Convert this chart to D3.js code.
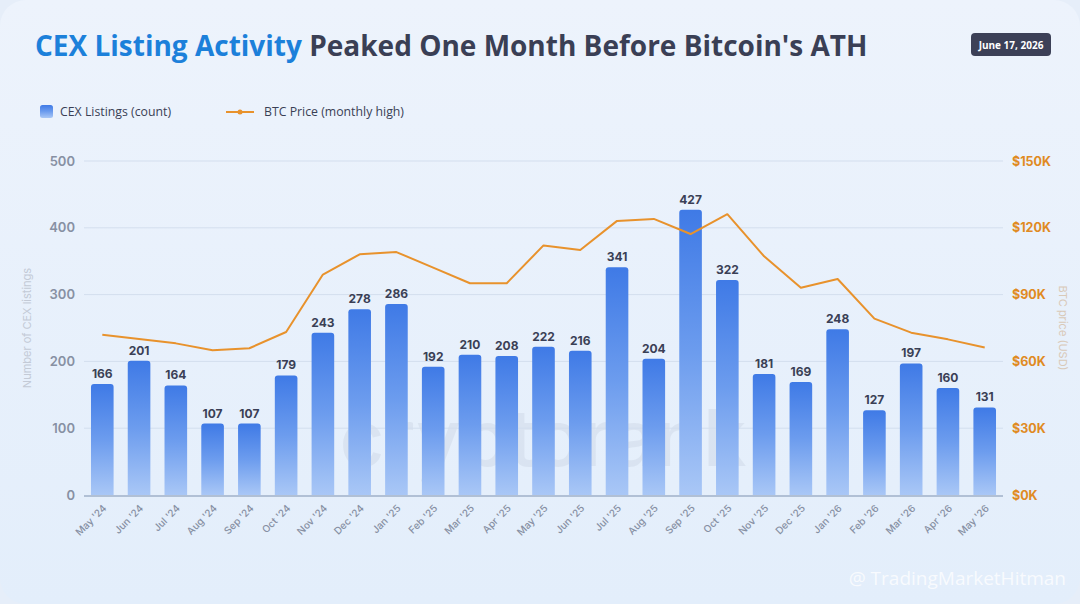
<!DOCTYPE html>
<html><head><meta charset="utf-8">
<script src="https://cdn.jsdelivr.net/npm/d3@7/dist/d3.min.js"></script>
<style>
html,body{margin:0;padding:0;background:#e9f1fb;}
svg{display:block;font-family:"Open Sans","Noto Sans",sans-serif;}
</style></head><body>
<svg id="c" width="1080" height="604"></svg>
<script>
const months = ["May '24","Jun '24","Jul '24","Aug '24","Sep '24","Oct '24","Nov '24","Dec '24","Jan '25","Feb '25","Mar '25","Apr '25","May '25","Jun '25","Jul '25","Aug '25","Sep '25","Oct '25","Nov '25","Dec '25","Jan '26","Feb '26","Mar '26","Apr '26","May '26"];
const listings = [166,201,164,107,107,179,243,278,286,192,210,208,222,216,341,204,427,322,181,169,248,127,197,160,131];
const btcHighK = [72.0,70.1,68.1,65.0,65.9,73.2,99.0,108.1,109.1,102.1,95.1,95.1,112.1,110.0,123.1,124.0,117.2,126.1,107.2,93.1,97.0,79.2,72.9,69.9,66.2];
const leftTicks = [0,100,200,300,400,500];
const rightTicks = [0,30,60,90,120,150];

const svg = d3.select("#c");
const defs = svg.append("defs");
const bg = defs.append("linearGradient").attr("id","bgG").attr("x1",0).attr("y1",0).attr("x2",0).attr("y2",1);
bg.append("stop").attr("offset","0").attr("stop-color","#edf3fc");
bg.append("stop").attr("offset","1").attr("stop-color","#e3eefb");
const bar = defs.append("linearGradient").attr("id","barG").attr("x1",0).attr("y1",0).attr("x2",0).attr("y2",1);
bar.append("stop").attr("offset","0").attr("stop-color","#3f7ae6");
bar.append("stop").attr("offset","0.5").attr("stop-color","#6c9cee");
bar.append("stop").attr("offset","1").attr("stop-color","#a9c7f6");

svg.append("rect").attr("width",1080).attr("height",604).attr("fill","#e6eef9");
svg.append("rect").attr("x",0).attr("y",0).attr("width",1080).attr("height",604).attr("rx",26).attr("fill","url(#bgG)");

const x0 = 84, x1 = 1003, yTop = 161, yBot = 495;
const x = d3.scaleBand().domain(months).range([x0,x1]).paddingInner(0.385).paddingOuter(0.19);
const yL = d3.scaleLinear().domain([0,500]).range([yBot,yTop]);
const yR = d3.scaleLinear().domain([0,150]).range([yBot,yTop]);

// watermark
svg.append("text").attr("x",543).attr("y",466).attr("text-anchor","middle")
  .attr("font-size",78).attr("font-family","Inter, 'Open Sans', sans-serif").attr("font-weight",500)
  .attr("fill","#8a96ab").attr("opacity",0.12).text("cryptorank");

// grid
svg.append("g").selectAll("line").data(leftTicks.filter(d=>d>0)).join("line")
  .attr("x1",x0).attr("x2",x1).attr("y1",d=>yL(d)).attr("y2",d=>yL(d))
  .attr("stroke","#d3deee").attr("stroke-width",1);

// left axis labels
const gL = svg.append("g").attr("transform",`translate(${x0},0)`)
  .call(d3.axisLeft(yL).tickValues(leftTicks).tickSize(0).tickPadding(9));
gL.select(".domain").remove();
gL.selectAll("text").attr("font-size",13).attr("font-weight",600).attr("fill","#8790a3")
  .attr("font-family","Inter, 'Open Sans', sans-serif");

// right axis labels
const gR = svg.append("g").attr("transform",`translate(${x1},0)`)
  .call(d3.axisRight(yR).tickValues(rightTicks).tickSize(0).tickPadding(9).tickFormat(d=>"$"+d+"K"));
gR.select(".domain").remove();
gR.selectAll("text").attr("font-size",12.5).attr("font-weight",700).attr("fill","#e08a22")
  .attr("font-family","Inter, 'Open Sans', sans-serif");

// axis titles
svg.append("text").attr("transform","translate(31,328) rotate(-90)").attr("text-anchor","middle")
  .attr("font-size",11).attr("fill","#c3cad6").attr("font-family","Inter, 'Open Sans', sans-serif").text("Number of CEX listings");
svg.append("text").attr("transform","translate(1059,328) rotate(90)").attr("text-anchor","middle")
  .attr("font-size",11).attr("fill","#d9c9b8").attr("font-family","Inter, 'Open Sans', sans-serif").text("BTC price (USD)");

// bars
svg.append("g").selectAll("path").data(months).join("path")
  .attr("fill","url(#barG)")
  .attr("d",(m,i)=>{
    const bx = x(m), bw = x.bandwidth(), ty = yL(listings[i]), r = 3;
    return `M${bx},${yBot}V${ty+r}Q${bx},${ty} ${bx+r},${ty}H${bx+bw-r}Q${bx+bw},${ty} ${bx+bw},${ty+r}V${yBot}Z`;
  });

// bar labels
svg.append("g").selectAll("text").data(months).join("text")
  .attr("x",m=>x(m)+x.bandwidth()/2).attr("y",(m,i)=>yL(listings[i])-6)
  .attr("text-anchor","middle").attr("font-size",12).attr("font-weight",700)
  .attr("font-family","Inter, 'Open Sans', sans-serif").attr("fill","#3a3f55")
  .text((m,i)=>listings[i]);

// x axis
svg.append("line").attr("x1",x0).attr("x2",x1).attr("y1",yBot+1).attr("y2",yBot+1)
  .attr("stroke","#9fb0c8").attr("stroke-width",1.5);
svg.append("g").selectAll("text").data(months).join("text")
  .attr("transform",m=>`translate(${x(m)+x.bandwidth()/2+3},${yBot+12}) rotate(-45)`)
  .attr("text-anchor","end").attr("dominant-baseline","middle")
  .attr("font-size",10).attr("font-weight",500).attr("fill","#8790a3")
  .attr("font-family","Inter, 'Open Sans', sans-serif")
  .text(m=>m);

// BTC line
const line = d3.line().x((d,i)=>x(months[i])+x.bandwidth()/2).y(d=>yR(d));
svg.append("path").datum(btcHighK).attr("d",line).attr("fill","none")
  .attr("stroke","#e8922c").attr("stroke-width",2).attr("stroke-linejoin","round");

// title
const t = svg.append("text").attr("x",35).attr("y",56).attr("font-size",28).attr("font-weight",700)
  .attr("font-family","'Open Sans','Noto Sans',sans-serif");
t.append("tspan").attr("fill","#1c80da").text("CEX Listing Activity");
t.append("tspan").attr("fill","#3a3f55").text(" Peaked One Month Before Bitcoin's ATH");

// date badge
svg.append("rect").attr("x",971).attr("y",33).attr("width",80).attr("height",23).attr("rx",4).attr("fill","#3c4057");
svg.append("text").attr("x",1011).attr("y",48.5).attr("text-anchor","middle").attr("font-size",10)
  .attr("font-weight",700).attr("fill","#ffffff").attr("font-family","'Open Sans',sans-serif").text("June 17, 2026");

// legend
svg.append("rect").attr("x",40).attr("y",105).attr("width",13).attr("height",13).attr("rx",2.5).attr("fill","url(#barG)");
svg.append("text").attr("x",60).attr("y",116).attr("font-size",12.3).attr("fill","#3a3f55")
  .attr("font-family","'Open Sans',sans-serif").text("CEX Listings (count)");
svg.append("line").attr("x1",226).attr("x2",254).attr("y1",112).attr("y2",112).attr("stroke","#e8922c").attr("stroke-width",2);
svg.append("circle").attr("cx",240).attr("cy",112).attr("r",2.5).attr("fill","#e8922c");
svg.append("text").attr("x",264).attr("y",116).attr("font-size",12.3).attr("fill","#3a3f55")
  .attr("font-family","'Open Sans',sans-serif").text("BTC Price (monthly high)");

// platform watermark
svg.append("text").attr("x",1066).attr("y",585).attr("text-anchor","end").attr("font-size",19)
  .attr("fill","#ffffff").attr("opacity",0.75).attr("font-family","'Open Sans',sans-serif").text("@ TradingMarketHitman");
</script>
</body></html>
